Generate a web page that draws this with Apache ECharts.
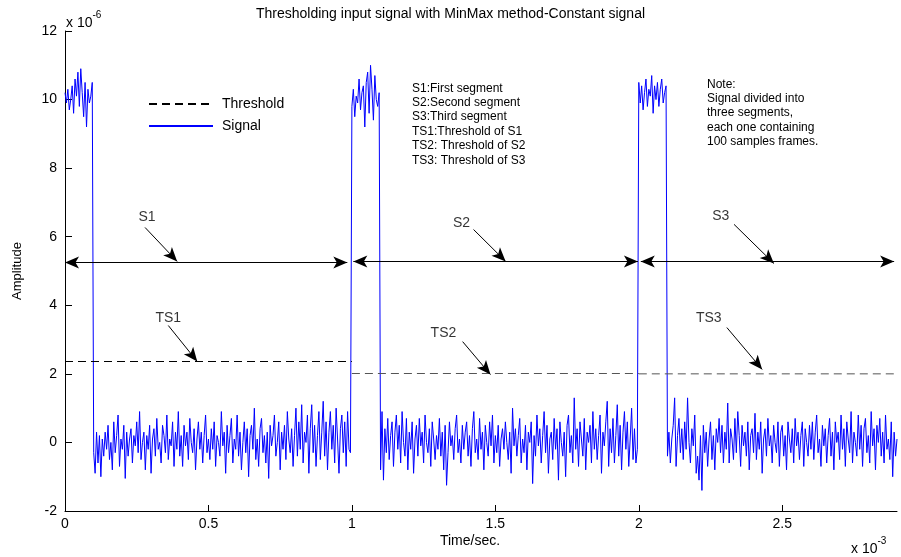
<!DOCTYPE html>
<html>
<head>
<meta charset="utf-8">
<script src="https://cdn.jsdelivr.net/npm/echarts@6/dist/echarts.min.js"></script>
<style>html,body{margin:0;padding:0;background:#fff}#c{width:901px;height:557px}</style>
</head>
<body>
<div id="c"></div>
<script>
// time in units of 1e-3 s, amplitude in units of 1e-6
const dt = 0.005;
const xTicks = [0, 0.5, 1, 1.5, 2, 2.5];
const yTicks = [-2, 0, 2, 4, 6, 8, 10, 12];

const seg1High = [10.2, 9.9, 10.3, 9.7, 10.0, 10.4, 9.6, 10.6, 10.1, 10.8, 9.8, 10.9, 10.2, 9.5, 10.5, 9.2, 10.3, 9.9, 10.1, 10.5];
const seg1Low = [
 -0.3, -0.9, 0.3, -0.6, 0.2, -1.0, 0.1, -0.4, 0.3, -0.2, 0.5, -0.5, 0.0, -0.8, 0.6, -0.3, 0.2, 0.8, -0.7, 0.1,
 -0.2, 0.5, -1.05, 0.3, -0.4, 0.1, 0.4, -0.6, 0.2, -0.1, 0.6, -0.3, 0.9, -0.5, 0.0, 0.3, -0.8, 0.2, -0.2, 0.5,
 -0.9, 0.1, 0.4, -0.4, 0.7, -0.2, 0.0, -0.6, 0.5, 0.2, -0.3, 0.8, -0.5, 0.1, -0.1, 0.6, -0.7, 0.3, -0.2, 0.9,
 -0.4, 0.2, -0.7, 0.5, -0.1, 0.3, -0.5, 0.7, 0.0, -0.3, 0.4, -0.8, 0.1, 0.6, -0.2, 0.3, -0.6, 0.2, 0.8, -0.3,
 0.1, -0.5, 0.4, -0.2, 0.6, -0.7, 0.2, 0.0, -0.4, 0.9, -0.1, 0.3, -0.9, 0.5, -0.3, 0.2, 0.7, -0.6, 0.1, -0.2,
 0.8, -0.4, 0.3, -0.8, 0.0, 0.6, -0.3, 0.4, -1.0, 0.2, 0.5, -0.2, 1.0, -0.5, 0.1, -0.7, 0.4, 0.7, -0.3, 0.2,
 -0.6, 0.3, -1.05, 0.5, -0.1, 0.2, 0.8, -0.4, 0.0, 0.6, -0.8, 0.3, -0.2, 0.5, -0.5, 0.9, 0.1, -0.3, 0.4, -0.7,
 0.2, 1.0, -0.4, 0.6, -0.2, 1.1, -0.6, 0.3, 0.0, 0.8, -0.9, 0.4, 1.1, -0.3, 0.5, -0.7, 0.2, 0.9, -0.5, 0.3,
 1.2, -0.4, 0.6, -0.8, 0.3, 0.9, -0.2, 0.5, -0.6, 1.0, 0.1, -0.9, 0.4, 0.8, -0.3, 0.6, -0.7, 0.9, -0.2, -0.3
];
const seg2High = [9.8, 10.3, 9.5, 10.1, 9.9, 10.6, 9.7, 10.2, 10.4, 9.2, 10.5, 10.8, 9.6, 11.0, 10.3, 9.4, 10.7, 10.0, 9.8, 10.2];
const seg2Low = [
 -0.8, 0.9, -1.1, 0.4, -0.3, 0.7, -0.5, 0.2, 0.6, -0.7, 0.3, 0.8, -0.2, 0.5, -0.6, 0.9, 0.0, -0.4, 0.7, -0.8,
 0.3, -0.2, 0.6, -0.9, 0.1, 0.5, -0.4, 0.7, -0.1, 0.3, -0.6, 0.8, 0.0, -0.3, 0.4, -0.7, 0.6, 0.1, -0.5, 0.2,
 -0.2, 0.7, -0.4, 0.3, -0.8, 0.5, -1.25, -0.3, 0.6, -0.1, 0.2, -0.5, 0.4, 0.8, -0.3, 0.1, -0.6, 0.5, -0.2, 0.3,
 0.6, -0.4, 0.2, -0.7, 0.4, 0.9, -0.3, 0.1, -0.5, 0.7, -0.2, 0.3, -0.8, 0.5, 0.0, -0.4, 0.6, -0.1, 0.8, -0.6,
 0.2, -0.3, 0.5, -0.7, 0.1, 0.4, -0.2, 0.6, 0.0, -0.5, 0.3, -0.9, 1.0, -0.1, 0.4, -0.4, 0.2, 0.7, -0.6, 0.1,
 -0.3, 0.5, -0.8, 0.3, 0.0, 0.6, -1.2, 0.2, -0.4, 0.8, -0.1, 0.4, -0.6, 0.2, 0.9, -0.3, 0.5, -0.9, 0.1, 0.3,
 -0.5, 0.7, -0.2, 0.4, -1.1, 0.6, 0.0, -0.4, 0.3, -1.0, 0.5, 0.8, -0.3, 0.2, -0.6, 1.3, -0.2, 0.4, -0.7, 0.6,
 0.1, -0.4, 0.7, -0.8, 0.3, 0.0, 0.5, -0.6, 0.9, -0.2, 0.4, -0.5, 0.2, 0.8, -0.9, 0.3, -0.1, 0.6, 1.2, -0.7,
 0.4, -0.3, 0.7, -0.6, 0.2, 1.1, -0.4, 0.5, -0.8, 0.3, 0.9, -0.2, 0.6, -0.7, 0.1, 1.0, -0.5, 0.4, -0.6, -0.2
];
const seg3High = [10.5, 9.9, 10.4, 9.7, 10.2, 10.6, 9.8, 10.3, 10.1, 10.7, 9.6, 10.4, 10.0, 10.5, 9.8, 10.3, 10.6, 9.9, 10.2, 10.4];
const seg3Low = [
 -0.4, 0.3, -0.6, 0.1, 0.5, 1.3, -0.7, 0.2, 0.7, -0.3, 0.4, -0.5, 0.6, -0.2, 1.3, 0.0, -0.6, 0.4, -0.1, 0.8,
 -0.9, -0.4, -1.1, 0.2, -1.4, 0.5, -0.3, 0.3, -0.7, 0.1, 0.6, -0.5, 0.2, -0.8, 0.4, 0.0, 0.7, -0.3, 0.5, -0.6,
 0.3, -0.2, 1.15, -0.6, 0.4, 0.1, -0.5, 0.7, -0.3, 0.9, 0.2, -0.7, 0.5, -0.1, 0.3, -0.4, 0.6, -0.8, 0.2, 0.4,
 -0.3, 0.85, -0.5, 0.3, -0.2, 0.6, -0.9, 0.1, 0.4, -0.4, 0.7, -0.1, 0.2, -0.6, 0.5, 0.0, -0.3, 0.6, -0.7, 0.3,
 0.5, -0.4, 0.2, -0.8, 0.6, 0.1, -0.3, 0.4, -0.6, 0.7, -0.1, 0.3, -0.5, 0.2, 0.6, -0.7, 0.4, 0.0, -0.4, 0.5,
 -0.2, 0.6, -0.5, 0.3, 0.8, -0.3, 0.1, -0.7, 0.5, -0.1, 0.4, -0.6, 0.2, 0.7, -0.4, 0.3, -0.8, 0.6, 0.0, 0.3,
 -0.5, 0.8, -0.2, 0.4, -0.7, 0.6, 0.1, -0.3, 0.9, -0.6, 0.3, 0.0, -0.4, 0.8, -0.2, 0.5, -0.7, 0.4, 0.7, -0.3,
 0.2, -0.6, 0.9, -0.1, 0.4, -0.8, 0.5, 0.0, 0.7, -0.4, 0.3, -0.6, 0.8, -0.2, 0.1, -0.5, 0.6, -1.0, 0.3, -0.4,
 0.1
];
const segStarts = [0, 0.1, 1.0, 1.1, 2.0, 2.1];

const thresholds = [
  {x0: 0, x1: 1.0, y: 2.36, color: '#000'},
  {x0: 1.0, x1: 2.0, y: 2.01, color: '#555'},
  {x0: 2.0, x1: 2.9, y: 2.0, color: '#555'}
];

const segArrows = [ [0, 0.984, 5.25], [1.005, 1.997, 5.28], [2.007, 2.89, 5.28] ];
const labels = [
  {name: 'S1', pos: [0.286, 6.56]}, {name: 'TS1', pos: [0.36, 3.62]},
  {name: 'S2', pos: [1.382, 6.41]}, {name: 'TS2', pos: [1.319, 3.18]},
  {name: 'S3', pos: [2.286, 6.59]}, {name: 'TS3', pos: [2.244, 3.62]}
];
const pointers = [
  [[0.279, 6.27], [0.391, 5.28]],
  [[0.36, 3.41], [0.461, 2.36]],
  [[1.424, 6.21], [1.536, 5.28]],
  [[1.386, 2.94], [1.483, 1.98]],
  [[2.332, 6.36], [2.471, 5.22]],
  [[2.307, 3.35], [2.43, 2.13]]
];

function build(start, arr) {
  return arr.map((v, i) => [+(start + i * dt).toFixed(4), v]);
}
const signal = [].concat(
  build(segStarts[0], seg1High), build(segStarts[1], seg1Low),
  build(segStarts[2], seg2High), build(segStarts[3], seg2Low),
  build(segStarts[4], seg3High), build(segStarts[5], seg3Low)
);

const FONT = 'Liberation Sans';
const chart = echarts.init(document.getElementById('c'), null, {renderer: 'canvas'});

const series = [];
thresholds.forEach((t, i) => {
  series.push({
    name: 'Threshold', type: 'line', symbol: 'none', showSymbol: false, z: 3,
    data: [[t.x0, t.y], [t.x1, t.y]],
    lineStyle: {color: t.color, width: 1, type: [8, 5]},
    itemStyle: {color: t.color}
  });
});
series.push({
  name: 'Signal', type: 'line', symbol: 'none', showSymbol: false, data: signal, z: 2,
  lineStyle: {color: '#0000ff', width: 1}, itemStyle: {color: '#0000ff'}
});
const mlData = [];
segArrows.forEach(a => {
  mlData.push([{coord: [a[0], a[2]], symbol: 'arrow'}, {coord: [a[1], a[2]], symbol: 'arrow'}]);
});
pointers.forEach(p => {
  mlData.push([{coord: p[0], symbol: 'none'}, {coord: p[1], symbol: 'arrow'}]);
});
series.push({
  name: 'ann', type: 'line', data: [], z: 4,
  markLine: {
    silent: true, animation: false, symbolSize: [9, 14],
    lineStyle: {color: '#000', width: 1, type: 'solid'},
    label: {show: false},
    data: mlData
  }
});
series.push({
  name: 'labels', type: 'scatter', symbolSize: 0, z: 5,
  data: labels.map(l => ({name: l.name, value: l.pos})),
  label: {show: true, position: 'inside', formatter: '{b}', color: '#000', fontSize: 14, fontFamily: FONT}
});

const txt1 = ['S1:First segment', 'S2:Second segment', 'S3:Third segment', 'TS1:Threshold of S1', 'TS2: Threshold of S2', 'TS3: Threshold of S3'];
const txt2 = ['Note:', 'Signal divided into', 'three segments,', 'each one containing', '100 samples frames.'];

const option = {
  animation: false,
  backgroundColor: '#fff',
  textStyle: {fontFamily: FONT},
  grid: {left: 65, right: 4, top: 31, bottom: 46},
  legend: {
    data: ['Threshold', 'Signal'], orient: 'vertical', left: 143, top: 92,
    itemWidth: 64, itemHeight: 14, itemGap: 8,
    itemStyle: {opacity: 0, borderWidth: 0},
    textStyle: {fontSize: 14, color: '#000', fontFamily: FONT, padding: [0, 0, 0, 4]}
  },
  xAxis: {
    type: 'value', min: 0, max: 2.9, interval: 0.5,
    axisLine: {show: true, onZero: false, lineStyle: {color: '#000', width: 1}},
    axisTick: {show: true, inside: true, length: 6, lineStyle: {color: '#000'}, customValues: xTicks},
    axisLabel: {color: '#000', fontSize: 14, margin: 6, fontFamily: FONT, customValues: xTicks},
    splitLine: {show: false}
  },
  yAxis: {
    type: 'value', min: -2, max: 12, interval: 2,
    axisLine: {show: true, onZero: false, lineStyle: {color: '#000', width: 1}},
    axisTick: {show: true, inside: true, length: 7, lineStyle: {color: '#000'}, customValues: yTicks},
    axisLabel: {color: '#000', fontSize: 14, margin: 8, fontFamily: FONT, customValues: yTicks},
    splitLine: {show: false}
  },
  graphic: [
    {type: 'text', left: 'center', top: 7, style: {text: 'Thresholding input signal with MinMax method-Constant signal', fontSize: 14, fill: '#000', fontFamily: FONT}},
    {type: 'text', x: 66, y: 10, style: {text: '{a|x 10}{b|-6}', fill: '#000', fontFamily: FONT, rich: {a: {fontSize: 14, fontFamily: FONT, padding: [6, 0, 0, 0]}, b: {fontSize: 10, fontFamily: FONT, verticalAlign: 'top'}}}},
    {type: 'text', x: 851, y: 536, style: {text: '{a|x 10}{b|-3}', fill: '#000', fontFamily: FONT, rich: {a: {fontSize: 14, fontFamily: FONT, padding: [6, 0, 0, 0]}, b: {fontSize: 10, fontFamily: FONT, verticalAlign: 'top'}}}},
    {type: 'text', x: 17, y: 271, rotation: Math.PI / 2, style: {text: 'Amplitude', fontSize: 13, fill: '#000', fontFamily: FONT, align: 'center', verticalAlign: 'middle'}},
    {type: 'text', x: 470, y: 541, style: {text: 'Time/sec.', fontSize: 14, fill: '#000', fontFamily: FONT, align: 'center', verticalAlign: 'middle'}},
    {type: 'text', x: 412, y: 81, style: {text: txt1.join('\n'), fontSize: 12, lineHeight: 14.4, fill: '#000', fontFamily: FONT}},
    {type: 'text', x: 707, y: 77, style: {text: txt2.join('\n'), fontSize: 12, lineHeight: 14.4, fill: '#000', fontFamily: FONT}}
  ],
  series: series
};
chart.setOption(option);
</script>
</body>
</html>
